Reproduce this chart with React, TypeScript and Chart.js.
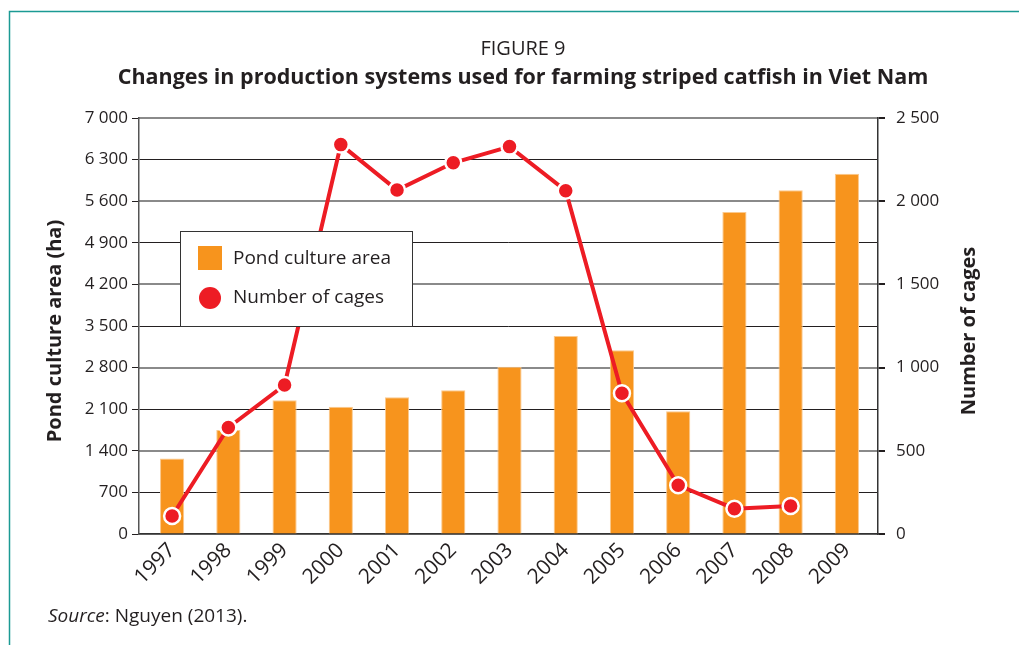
import React, { useEffect, useRef } from "react";
import { Chart, registerables } from "chart.js";

Chart.register(...registerables);

const years = ["1997", "1998", "1999", "2000", "2001", "2002", "2003", "2004", "2005", "2006", "2007", "2008", "2009"];
const pondArea = [1270, 1750, 2250, 2140, 2300, 2420, 2815, 3330, 3090, 2065, 5420, 5785, 6060];
const cages: (number | null)[] = [108, 640, 895, 2340, 2067, 2231, 2328, 2063, 846, 293, 152, 168, null];

const figureLabel = "FIGURE 9";
const chartTitle = "Changes in production systems used for farming striped catfish in Viet Nam";
const leftTitle = "Pond culture area (ha)";
const rightTitle = "Number of cages";
const barLabel = "Pond culture area";
const lineLabel = "Number of cages";

const FONT = '"Open Sans", "Noto Sans", sans-serif';
const TXT = "#231f20";
const ORANGE = "#f7941d";
const RED = "#ed1c24";
const TEAL = "#1b9a94";

const fmt = (v: number) => {
  const s = String(Math.round(v));
  return s.replace(/\B(?=(\d{3})+(?!\d))/g, " ");
};

const insetPlugin = {
  id: "inset",
  afterLayout(chart: any) {
    const x = chart.scales.x;
    if (!x) return;
    x._startPixel = x.left + 5;
    x._endPixel = x.right - 3;
    x._length = x._endPixel - x._startPixel;
  },
};

const decorPlugin = {
  id: "decor",
  afterDraw(chart: any) {
    const ctx = chart.ctx as CanvasRenderingContext2D;
    ctx.save();
    // frame
    ctx.strokeStyle = TEAL;
    ctx.lineWidth = 1.5;
    ctx.beginPath();
    ctx.moveTo(9.5, 645);
    ctx.lineTo(9.5, 11.5);
    ctx.lineTo(1019, 11.5);
    ctx.stroke();

    ctx.fillStyle = TXT;
    ctx.textAlign = "center";
    ctx.textBaseline = "alphabetic";
    ctx.font = `20px ${FONT}`;
    ctx.fillText(figureLabel, 523, 55);
    ctx.font = `bold 21.5px ${FONT}`;
    ctx.fillText(chartTitle, 523, 84);

    // axis titles
    ctx.font = `bold 20px ${FONT}`;
    ctx.textBaseline = "middle";
    ctx.save();
    ctx.translate(55, 331);
    ctx.rotate(-Math.PI / 2);
    ctx.fillText(leftTitle, 0, 0);
    ctx.restore();
    ctx.save();
    ctx.translate(969, 331);
    ctx.rotate(-Math.PI / 2);
    ctx.fillText(rightTitle, 0, 0);
    ctx.restore();

    // source
    ctx.textAlign = "left";
    ctx.textBaseline = "alphabetic";
    ctx.font = `italic 19px ${FONT}`;
    ctx.fillText("Source", 48, 622);
    const w = ctx.measureText("Source").width;
    ctx.font = `19px ${FONT}`;
    ctx.fillText(": Nguyen (2013).", 48 + w, 622);

    // legend
    ctx.fillStyle = "#ffffff";
    ctx.fillRect(180, 231, 232, 95);
    ctx.strokeStyle = "#333";
    ctx.lineWidth = 1;
    ctx.strokeRect(180.5, 231.5, 232, 95);
    ctx.fillStyle = ORANGE;
    ctx.fillRect(198, 246, 24, 24);
    ctx.fillStyle = RED;
    ctx.beginPath();
    ctx.arc(210, 298, 11, 0, Math.PI * 2);
    ctx.fill();
    ctx.fillStyle = TXT;
    ctx.font = `19px ${FONT}`;
    ctx.textBaseline = "middle";
    ctx.fillText(barLabel, 233, 259);
    ctx.fillText(lineLabel, 233, 298);
    ctx.restore();
  },
};

export default function App() {
  const ref = useRef<HTMLCanvasElement | null>(null);
  useEffect(() => {
    if (!ref.current) return;
    const chart = new Chart(ref.current, {
      type: "bar",
      data: {
        labels: years,
        datasets: [
          {
            type: "line",
            label: lineLabel,
            data: cages,
            yAxisID: "y1",
            borderColor: RED,
            borderWidth: 4,
            pointRadius: 8,
            pointBackgroundColor: RED,
            pointBorderColor: "#ffffff",
            pointBorderWidth: 2.5,
            order: 0,
          } as any,
          {
            type: "bar",
            label: barLabel,
            data: pondArea,
            yAxisID: "y",
            backgroundColor: ORANGE,
            borderColor: "#fbc98d",
            borderWidth: 1,
            categoryPercentage: 1,
            barPercentage: 0.43,
            order: 1,
          },
        ],
      },
      options: {
        responsive: false,
        animation: false,
        layout: { padding: { top: 118, left: 0, right: 0, bottom: 0 } },
        plugins: { legend: { display: false }, title: { display: false }, tooltip: { enabled: false } },
        scales: {
          x: {
            offset: true,
            grid: { display: false, drawTicks: false },
            border: { display: true, color: "#333", width: 1.5 },
            ticks: {
              color: TXT,
              font: { family: FONT, size: 21 },
              minRotation: 45,
              maxRotation: 45,
              padding: 4,
            },
            afterFit: (s: any) => {
              s.height = 111;
            },
          },
          y: {
            position: "left",
            min: 0,
            max: 7000,
            grid: { color: TXT, lineWidth: 1, tickLength: 7, tickColor: TXT },
            border: { display: true, color: "#555", width: 1.5 },
            ticks: {
              stepSize: 700,
              color: TXT,
              font: { family: FONT, size: 17 },
              padding: 4,
              callback: (v: any) => fmt(Number(v)),
            },
            afterFit: (s: any) => {
              s.width = 139;
            },
          },
          y1: {
            position: "right",
            min: 0,
            max: 2500,
            grid: { color: "#8a8a8a", lineWidth: 2, tickLength: 7, tickColor: TXT },
            border: { display: true, color: "#333", width: 1.5 },
            ticks: {
              stepSize: 500,
              color: TXT,
              font: { family: FONT, size: 17 },
              padding: 11,
              callback: (v: any) => fmt(Number(v)),
            },
            afterFit: (s: any) => {
              s.width = 141;
            },
          },
        },
      },
      plugins: [insetPlugin, decorPlugin],
    });
    return () => chart.destroy();
  }, []);
  return (
    <div style={{ position: "absolute", left: 0, top: 0, width: 1019, height: 645, background: "#fff" }}>
      <canvas ref={ref} width={1019} height={645} />
    </div>
  );
}
